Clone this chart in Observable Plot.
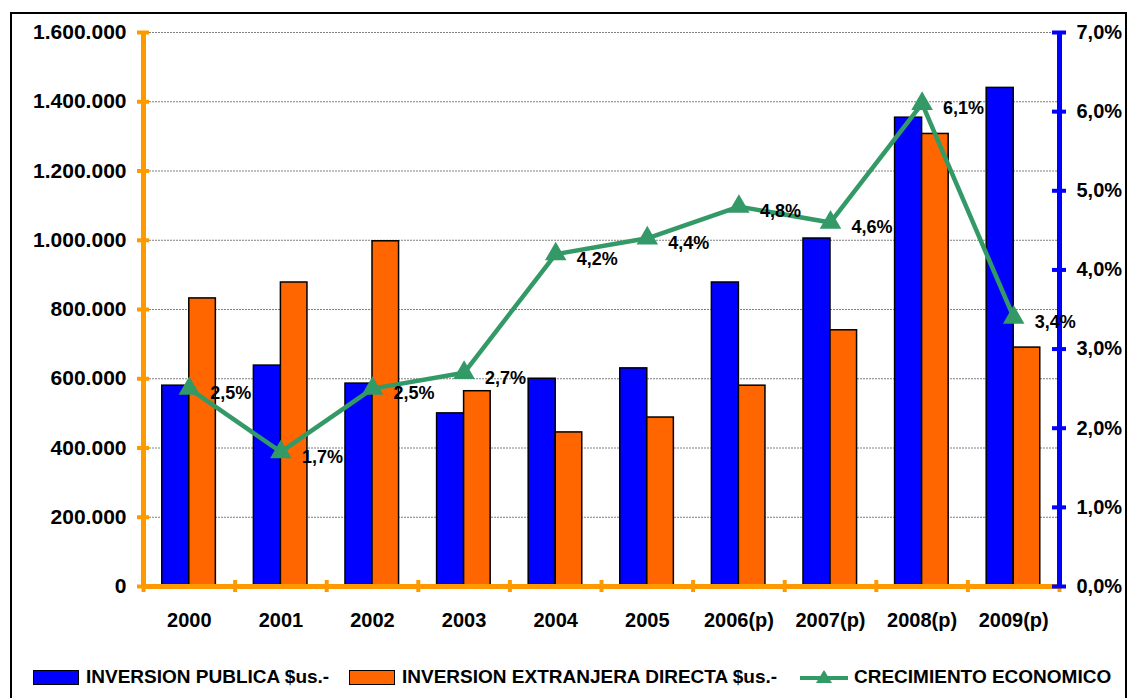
<!DOCTYPE html>
<html>
<head>
<meta charset="utf-8">
<script src="https://cdn.jsdelivr.net/npm/d3@7"></script>
<script src="https://cdn.jsdelivr.net/npm/@observablehq/plot@0.6"></script>
<style>
  html, body { margin: 0; padding: 0; overflow: hidden; background: white; width: 1129px; height: 698px; }
  body { font-family: "Liberation Sans", Arial, sans-serif; position: relative; }
  #chart { position: absolute; left: 0; top: 0; }
  #frame { position: absolute; left: 10px; top: 12px; width: 1117px; height: 720px; box-sizing: border-box; border: 2px solid #000; z-index: 2; pointer-events: none; }
  .leg { position: absolute; top: 666px; display: flex; align-items: center; font-weight: bold; font-size: 19px; color: #000; white-space: nowrap; }
  .sw { width: 44px; height: 13px; border: 1.5px solid #000; margin-right: 7px; }
</style>
</head>
<body>
<div id="chart"></div>
<div id="frame"></div>
<div class="leg" style="left:33px"><div class="sw" style="background:#0000FF"></div>INVERSION PUBLICA $us.-</div>
<div class="leg" style="left:349px"><div class="sw" style="background:#FF6600"></div>INVERSION EXTRANJERA DIRECTA $us.-</div>
<div class="leg" style="left:800px"><svg width="48" height="20" style="margin-right:6px"><line x1="0" y1="11" x2="48" y2="11" stroke="#339966" stroke-width="4"/><path d="M24,3 L32,16 L16,16 Z" fill="#339966"/></svg>CRECIMIENTO ECONOMICO</div>
<script>
const years = ["2000", "2001", "2002", "2003", "2004", "2005", "2006(p)", "2007(p)", "2008(p)", "2009(p)"];
const inversionPublica = [580000, 638000, 586000, 500000, 600000, 630000, 878000, 1005000, 1354000, 1440000];
const inversionExtranjera = [832000, 878000, 997000, 564000, 445000, 488000, 580000, 740000, 1307000, 690000];
const crecimiento = [2.5, 1.7, 2.5, 2.7, 4.2, 4.4, 4.8, 4.6, 6.1, 3.4];
const leftTicks = [0, 200000, 400000, 600000, 800000, 1000000, 1200000, 1400000, 1600000];
const rightTicks = [0, 1, 2, 3, 4, 5, 6, 7];

const yMax = 1600000, pctMax = 7;
const toLeft = p => p * yMax / pctMax;
const data = years.map((y, i) => ({i, year: y, pub: inversionPublica[i], ext: inversionExtranjera[i], g: crecimiento[i]}));
const fmtNum = v => d3.format(",")(v).replace(/,/g, ".");
const fmtPct = p => p.toFixed(1).replace(".", ",") + "%";

const ORANGE_AXIS = "#FF9900", BLUE = "#0000FF", ORANGE = "#FF6600", GREEN = "#339966";
const H = 650;

const chart = Plot.plot({
  width: 1129,
  height: H,
  marginLeft: 143,
  marginRight: 70,
  marginTop: 32,
  marginBottom: H - 586,
  style: {background: "transparent", fontFamily: "'Liberation Sans', Arial, sans-serif", fontWeight: "bold", fontSize: "20px", color: "#000"},
  x: {type: "linear", domain: [0, years.length], axis: null},
  y: {domain: [0, yMax], axis: null},
  marks: [
    Plot.ruleY(leftTicks.slice(1), {stroke: "#808080", strokeWidth: 1, strokeDasharray: "2,1"}),
    Plot.rectY(data, {x1: d => d.i + 0.205, x2: d => d.i + 0.5, y: "pub", fill: BLUE, stroke: "#000", strokeWidth: 1.5}),
    Plot.rectY(data, {x1: d => d.i + 0.5, x2: d => d.i + 0.79, y: "ext", fill: ORANGE, stroke: "#000", strokeWidth: 1.5}),
    // left (orange) axis
    Plot.ruleX([0], {y1: 0, y2: yMax, stroke: ORANGE_AXIS, strokeWidth: 5}),
    Plot.ruleY(leftTicks, {x1: 0, x2: 0, insetLeft: -6, insetRight: -6, stroke: ORANGE_AXIS, strokeWidth: 4}),
    Plot.axisY(leftTicks, {anchor: "left", tickSize: 0, tickPadding: 17, tickFormat: fmtNum, fontSize: 21, fontWeight: "bold"}),
    // bottom axis
    Plot.ruleY([0], {x1: 0, x2: years.length, stroke: ORANGE_AXIS, strokeWidth: 5}),
    Plot.ruleX(d3.range(0, years.length + 1), {y1: 0, y2: 0, insetTop: -6, insetBottom: -6, stroke: ORANGE_AXIS, strokeWidth: 4}),
    Plot.axisX(data.map(d => d.i + 0.5), {anchor: "bottom", tickSize: 0, tickPadding: 26, tickFormat: v => years[Math.round(v - 0.5)], fontSize: 20, fontWeight: "bold"}),
    // right (blue) axis
    Plot.ruleX([years.length], {y1: 0, y2: yMax, stroke: BLUE, strokeWidth: 5}),
    Plot.ruleY(rightTicks.map(toLeft), {x1: years.length, x2: years.length, insetLeft: -7, insetRight: -7, stroke: BLUE, strokeWidth: 4}),
    Plot.axisY(rightTicks.map(toLeft), {anchor: "right", tickSize: 0, tickPadding: 17, tickFormat: v => fmtPct(v * pctMax / yMax), fontSize: 20, fontWeight: "bold"}),
    // growth line
    Plot.line(data, {x: d => d.i + 0.5, y: d => toLeft(d.g), stroke: GREEN, strokeWidth: 4.5}),
    Plot.dot(data, {x: d => d.i + 0.5, y: d => toLeft(d.g), symbol: "triangle", r: 8, fill: GREEN, stroke: "none"}),
    Plot.text(data, {x: d => d.i + 0.5, y: d => toLeft(d.g), text: d => fmtPct(d.g), textAnchor: "start", dx: 21, dy: 5, fontSize: 18, fontWeight: "bold", fill: "#000"})
  ]
});
document.getElementById("chart").appendChild(chart);
</script>
</body>
</html>
